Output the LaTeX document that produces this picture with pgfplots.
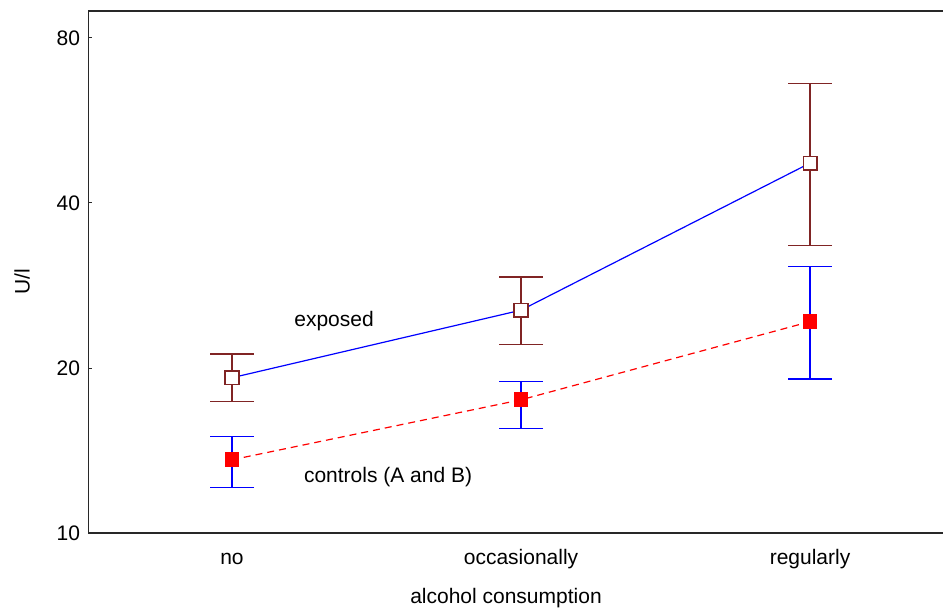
\documentclass[border=0pt]{standalone}
\usepackage{fontspec}
\setmainfont{Liberation Sans}
\usepackage{pgfplots}
\pgfplotsset{compat=1.18}
\definecolor{darkred}{RGB}{128,36,36}
\definecolor{axisgray}{RGB}{40,40,40}

\begin{document}
\begin{tikzpicture}
\begin{axis}[
  scale only axis,
  width=854.5pt, height=522pt,
  font=\fontsize{21}{24}\selectfont,
  ymode=log, log basis y=2,
  ymin=10, ymax=89.6,
  xmin=-0.4965, xmax=2.46,
  axis x line*=box, axis y line*=left,
  axis line style={axisgray, line width=1.4pt},
  ytick={10,20,40,80}, yticklabels={10,20,40,80},
  xtick={0,1,2}, xticklabels={no,occasionally,regularly},
  minor ytick={},
  tick align=inside,
  major tick length=4pt,
  tick style={axisgray, line width=1pt},
  x tick style={draw=none},
  yticklabel style={xshift=-5pt},
  xticklabel style={anchor=base, yshift=-32pt},
  xlabel={alcohol consumption},
  xlabel style={at={(axis description cs:0.4886,0)}, anchor=base, yshift=-71pt},
  ylabel={U/l},
  ylabel style={at={(axis description cs:-0.0778,0.481)}, anchor=center},
  clip=false,
]
% exposed
\addplot[blue, line width=1.2pt,
  mark=square*, mark size=6.8pt,
  mark options={fill=white, draw=darkred, line width=1.5pt, solid},
  error bars/.cd, y dir=both, y explicit,
  error bar style={darkred, line width=1.3pt},
  error mark options={rotate=90, mark size=22pt, darkred, line width=1.3pt}]
  table[x=x, y=y, y error plus=ep, y error minus=em] {
x y ep em
0 19.2 2.0 1.8
1 25.5 3.8 3.4
2 47.3 18.7 13.8
};
% controls (A and B)
\addplot[red, line width=1.2pt, dash pattern=on 7pt off 5pt,
  mark=square*, mark size=6.8pt,
  mark options={fill=red, draw=red, solid},
  error bars/.cd, y dir=both, y explicit,
  error bar style={blue, line width=1.3pt, solid},
  error mark options={rotate=90, mark size=22pt, blue, line width=1.3pt, solid}]
  table[x=x, y=y, y error plus=ep, y error minus=em] {
x y ep em
0 13.6 1.4 1.5
1 17.5 1.4 2.0
2 24.3 6.3 5.2
};
\node at (axis cs:0.353,24.36) {exposed};
\node at (axis cs:0.54,12.65) {controls (A and B)};
\end{axis}
\pgfresetboundingbox
\path[use as bounding box] ([xshift=-88.5pt,yshift=-78pt]current axis.south west)
  rectangle ([yshift=11pt]current axis.north east);
\end{tikzpicture}
\end{document}
